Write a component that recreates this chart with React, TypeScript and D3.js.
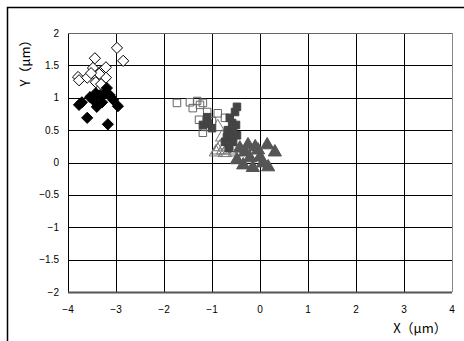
import React from "react";
import * as d3 from "d3";

type P = [number, number];

const xTicks = [-4, -3, -2, -1, 0, 1, 2, 3, 4];
const yTicks = [-2, -1.5, -1, -0.5, 0, 0.5, 1, 1.5, 2];

const openDiamonds: P[] = [
  [-2.98, 1.77], [-2.85, 1.57], [-3.44, 1.61], [-3.79, 1.32], [-3.77, 1.27],
  [-3.6, 1.31], [-3.48, 1.46], [-3.38, 1.32], [-3.31, 1.41], [-3.21, 1.47],
  [-3.21, 1.31], [-3.42, 1.24], [-3.31, 1.21], [-3.35, 1.37], [-3.52, 1.38],
];
const filledDiamonds: P[] = [
  [-3.77, 0.89], [-3.71, 0.93], [-3.6, 0.69], [-3.17, 0.59], [-3.54, 1.01],
  [-3.48, 0.97], [-3.4, 0.86], [-3.33, 1.04], [-3.29, 0.93], [-3.19, 1.15],
  [-3.13, 1.04], [-3.06, 0.97], [-2.96, 0.87], [-3.23, 1.07], [-3.42, 1.07],
];
const openSquares: P[] = [
  [-1.73, 0.92], [-1.31, 0.95], [-1.19, 0.92], [-1.4, 0.84], [-1.1, 0.78],
  [-0.88, 0.76], [-1.27, 0.66], [-1.0, 0.64], [-1.19, 0.46], [-1.15, 0.55],
  [-0.73, 0.69], [-1.46, 0.93], [-1.25, 0.89],
];
const openTriangles: P[] = [
  [-0.88, 0.55], [-0.79, 0.39], [-0.83, 0.24], [-0.88, 0.19], [-0.77, 0.19],
  [-0.63, 0.19], [-0.71, 0.27], [-0.92, 0.16], [-0.52, 0.16], [-0.73, 0.15],
];
const filledSquares: P[] = [
  [-1.1, 0.7], [-1.0, 0.53], [-1.19, 0.58], [-0.52, 0.78], [-0.48, 0.86],
  [-0.58, 0.61], [-0.67, 0.5], [-0.69, 0.39], [-0.48, 0.42], [-0.56, 0.32],
  [-0.73, 0.32], [-0.63, 0.69], [-0.5, 0.58], [-0.65, 0.22], [-0.56, 0.48],
  [-0.62, 0.42], [-1.08, 0.6],
];
const filledTriangles: P[] = [
  [-0.25, 0.27], [-0.1, 0.24], [0.15, 0.27], [0.31, 0.16], [-0.31, 0.16],
  [-0.21, 0.07], [0.0, 0.08], [0.06, -0.01], [-0.35, -0.04], [-0.15, -0.08],
  [0.17, -0.07], [-0.42, 0.22], [-0.04, 0.19], [-0.48, 0.04],
];

const L = 68, R = 452, T = 33, B = 292;

export default function App() {
  const x = d3.scaleLinear().domain([-4, 4]).range([L, R]);
  const y = d3.scaleLinear().domain([-2, 2]).range([B, T]);
  const fmt = (v: number) => String(v).replace("-", "\u2212");

  const diamond = d3.symbol().type(d3.symbolDiamond2).size(80)() as string;
  const square = d3.symbol().type(d3.symbolSquare2).size(72)() as string;
  const tri = d3.symbol().type(d3.symbolTriangle).size(75)() as string;

  const marks = (
    data: P[],
    path: string,
    fill: string,
    stroke: string,
    key: string
  ) =>
    data.map((d, i) => (
      <path
        key={key + i}
        d={path}
        transform={`translate(${x(d[0])},${y(d[1])})`}
        fill={fill}
        stroke={stroke}
        strokeWidth={1}
      />
    ));

  return (
    <svg
      width={464}
      height={341}
      style={{ position: "absolute", left: 0, top: 0, background: "#fff" }}
      fontFamily="'Liberation Sans', Arial, sans-serif"
    >
      <rect x={7.5} y={7.5} width={480} height={360} fill="#fff" stroke="#000" strokeWidth={1.5} />
      {xTicks.map((t) => (
        <line key={"gx" + t} x1={Math.round(x(t)) + 0.5} x2={Math.round(x(t)) + 0.5} y1={T} y2={B} stroke={t === 4 ? "#888" : "#000"} strokeWidth={1} />
      ))}
      {yTicks.map((t) => (
        <line key={"gy" + t} x1={L} x2={R} y1={Math.round(y(t)) + 0.5} y2={Math.round(y(t)) + 0.5} stroke={t === -2 ? "#555" : t === 2 ? "#666" : "#000"} strokeWidth={t === -2 ? 2 : 1} />
      ))}
      {marks(openDiamonds, diamond, "#fff", "#000", "od")}
      {marks(filledDiamonds, diamond, "#000", "#000", "fd")}
      {marks(openSquares, square, "none", "#666", "os")}
      {marks(openTriangles, tri, "none", "#777", "ot")}
      {marks(filledSquares, square, "#444", "#444", "fs")}
      {marks(filledTriangles, tri, "#555", "#555", "ft")}
      {yTicks.map((t) => (
        <text key={"yl" + t} x={59} y={y(t) + 3.5} fontSize={10} textAnchor="end" fill="#000">
          {fmt(t)}
        </text>
      ))}
      {xTicks.map((t) => (
        <text key={"xl" + t} x={x(t)} y={313} fontSize={10} textAnchor="middle" fill="#000">
          {fmt(t)}
        </text>
      ))}
      <text x={420} y={333} fontSize={13} textAnchor="middle" fontFamily="'Noto Sans CJK JP', sans-serif">
        X（μm）
      </text>
      <text transform="translate(30,60) rotate(-90)" fontSize={13} textAnchor="middle" fontFamily="'Noto Sans CJK JP', sans-serif">
        Y（μm）
      </text>
    </svg>
  );
}
